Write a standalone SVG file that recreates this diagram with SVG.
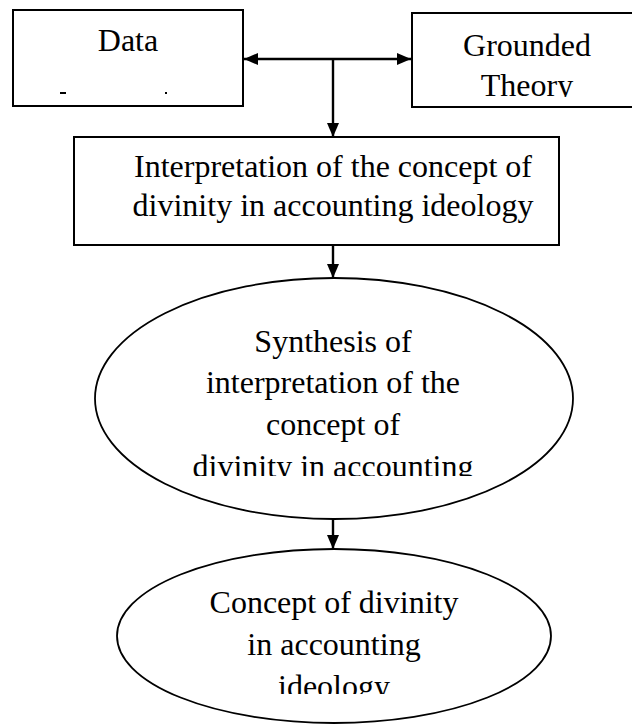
<svg xmlns="http://www.w3.org/2000/svg" width="632" height="724" viewBox="0 0 632 724">
  <style>
    .box { fill: #ffffff; stroke: #000000; stroke-width: 2; }
    .ell { fill: #ffffff; stroke: #000000; stroke-width: 1.8; }
    .lbl { font-family: "Liberation Serif", "Times New Roman", serif; font-size: 32px; fill: #000000; text-anchor: middle; }
    .conn { stroke: #000000; stroke-width: 2.4; fill: none; }
  </style>
  <defs>
    <marker id="ah" viewBox="0 0 14 12" refX="14" refY="6" markerWidth="14" markerHeight="12" markerUnits="userSpaceOnUse" orient="auto-start-reverse">
      <path d="M0,0 L14,6 L0,12 Z" fill="#000000"/>
    </marker>
    <clipPath id="clipData"><rect x="13" y="10" width="230" height="96"/></clipPath>
    <clipPath id="clipGT"><rect x="412" y="13" width="230" height="84"/></clipPath>
    <clipPath id="clipE1"><rect x="90" y="278" width="490" height="198"/></clipPath>
    <clipPath id="clipE2"><rect x="110" y="549" width="450" height="145"/></clipPath>
  </defs>

  <g id="connectors">
    <line class="conn" x1="244" y1="59" x2="411" y2="59" marker-start="url(#ah)" marker-end="url(#ah)"/>
    <line class="conn" x1="333" y1="59" x2="333" y2="137" marker-end="url(#ah)"/>
    <line class="conn" x1="333" y1="246" x2="333" y2="278" marker-end="url(#ah)"/>
    <line class="conn" x1="333" y1="519" x2="333" y2="549" marker-end="url(#ah)"/>
  </g>

  <g id="data">
    <rect class="box" x="13" y="10" width="230" height="96"/>
    <text class="lbl" x="128" y="51" clip-path="url(#clipData)">Data</text>
    <rect x="60" y="92" width="6" height="2" fill="#000000"/>
    <rect x="165" y="92" width="2" height="2" fill="#000000"/>
  </g>

  <g id="grounded-theory">
    <rect class="box" x="412" y="13" width="230" height="94"/>
    <g clip-path="url(#clipGT)">
      <text class="lbl" x="527" y="56">Grounded</text>
      <text class="lbl" x="527" y="96">Theory</text>
    </g>
  </g>

  <g id="interpretation">
    <rect class="box" x="74" y="137" width="485" height="108"/>
    <text class="lbl" x="333" y="177">Interpretation of the concept of</text>
    <text class="lbl" x="333" y="216">divinity in accounting ideology</text>
  </g>

  <g id="synthesis">
    <ellipse class="ell" cx="334" cy="398.5" rx="239" ry="120.5"/>
    <g clip-path="url(#clipE1)">
      <text class="lbl" x="333" y="352">Synthesis of</text>
      <text class="lbl" x="333" y="393">interpretation of the</text>
      <text class="lbl" x="333" y="435">concept of</text>
      <text class="lbl" x="333" y="477">divinity in accounting</text>
    </g>
  </g>

  <g id="concept">
    <ellipse class="ell" cx="334" cy="636" rx="217" ry="87"/>
    <g clip-path="url(#clipE2)">
      <text class="lbl" x="334" y="613">Concept of divinity</text>
      <text class="lbl" x="334" y="655">in accounting</text>
      <text class="lbl" x="334" y="697">ideology</text>
    </g>
  </g>
</svg>
